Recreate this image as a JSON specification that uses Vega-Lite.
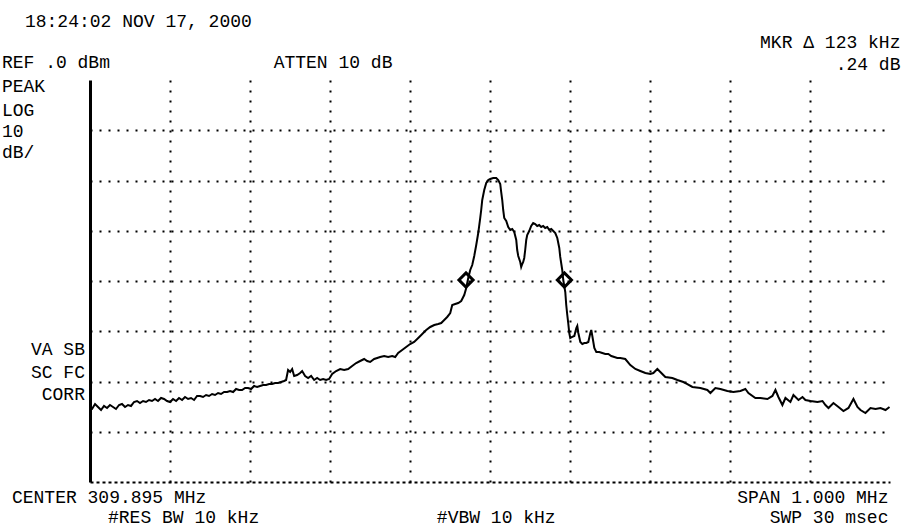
{
  "$schema": "https://vega.github.io/schema/vega-lite/v6.json",
  "autosize": "none",
  "width": 800,
  "height": 402,
  "padding": {"left": 90, "top": 80, "right": 13, "bottom": 45},
  "background": "white",
  "view": {"stroke": null},
  "config": {
    "text": {"font": "Liberation Mono", "fontSize": 18, "color": "black"}
  },
  "datasets": {
    "trace": [
      {"freq_MHz":309.395,"level_dBm":-65.67},{"freq_MHz":309.3975,"level_dBm":-65.47},{"freq_MHz":309.4013,"level_dBm":-64.48},{"freq_MHz":309.405,"level_dBm":-65.07},{"freq_MHz":309.4088,"level_dBm":-65.67},{"freq_MHz":309.4125,"level_dBm":-64.87},{"freq_MHz":309.4163,"level_dBm":-65.27},{"freq_MHz":309.42,"level_dBm":-64.68},{"freq_MHz":309.4238,"level_dBm":-65.07},{"freq_MHz":309.4275,"level_dBm":-65.47},{"freq_MHz":309.4313,"level_dBm":-64.68},{"freq_MHz":309.435,"level_dBm":-64.48},{"freq_MHz":309.4388,"level_dBm":-65.07},{"freq_MHz":309.4425,"level_dBm":-64.68},{"freq_MHz":309.4463,"level_dBm":-64.87},{"freq_MHz":309.45,"level_dBm":-64.08},{"freq_MHz":309.4538,"level_dBm":-63.88},{"freq_MHz":309.4575,"level_dBm":-64.28},{"freq_MHz":309.4613,"level_dBm":-63.88},{"freq_MHz":309.465,"level_dBm":-64.08},{"freq_MHz":309.4688,"level_dBm":-63.68},{"freq_MHz":309.4725,"level_dBm":-63.88},{"freq_MHz":309.4763,"level_dBm":-63.48},{"freq_MHz":309.48,"level_dBm":-63.88},{"freq_MHz":309.4838,"level_dBm":-63.28},{"freq_MHz":309.4876,"level_dBm":-63.48},{"freq_MHz":309.4913,"level_dBm":-63.88},{"freq_MHz":309.4951,"level_dBm":-64.08},{"freq_MHz":309.4988,"level_dBm":-63.48},{"freq_MHz":309.5026,"level_dBm":-63.88},{"freq_MHz":309.5063,"level_dBm":-63.28},{"freq_MHz":309.5101,"level_dBm":-63.68},{"freq_MHz":309.5138,"level_dBm":-63.08},{"freq_MHz":309.5176,"level_dBm":-63.48},{"freq_MHz":309.5213,"level_dBm":-63.28},{"freq_MHz":309.5251,"level_dBm":-63.68},{"freq_MHz":309.5288,"level_dBm":-62.88},{"freq_MHz":309.5326,"level_dBm":-62.88},{"freq_MHz":309.5363,"level_dBm":-63.08},{"freq_MHz":309.5401,"level_dBm":-62.69},{"freq_MHz":309.5438,"level_dBm":-62.88},{"freq_MHz":309.5476,"level_dBm":-62.49},{"freq_MHz":309.5513,"level_dBm":-62.69},{"freq_MHz":309.5551,"level_dBm":-62.29},{"freq_MHz":309.5588,"level_dBm":-62.49},{"freq_MHz":309.5626,"level_dBm":-62.09},{"freq_MHz":309.5664,"level_dBm":-62.09},{"freq_MHz":309.5701,"level_dBm":-61.89},{"freq_MHz":309.5739,"level_dBm":-62.09},{"freq_MHz":309.5776,"level_dBm":-61.49},{"freq_MHz":309.5814,"level_dBm":-61.69},{"freq_MHz":309.5851,"level_dBm":-61.69},{"freq_MHz":309.5889,"level_dBm":-61.29},{"freq_MHz":309.5926,"level_dBm":-61.29},{"freq_MHz":309.5964,"level_dBm":-61.49},{"freq_MHz":309.6001,"level_dBm":-60.89},{"freq_MHz":309.6039,"level_dBm":-61.09},{"freq_MHz":309.6076,"level_dBm":-60.89},{"freq_MHz":309.6114,"level_dBm":-60.7},{"freq_MHz":309.6151,"level_dBm":-60.7},{"freq_MHz":309.6189,"level_dBm":-60.5},{"freq_MHz":309.6226,"level_dBm":-60.5},{"freq_MHz":309.6264,"level_dBm":-60.3},{"freq_MHz":309.6301,"level_dBm":-60.3},{"freq_MHz":309.6339,"level_dBm":-60.1},{"freq_MHz":309.6376,"level_dBm":-59.9},{"freq_MHz":309.6401,"level_dBm":-59.7},{"freq_MHz":309.6426,"level_dBm":-57.71},{"freq_MHz":309.6452,"level_dBm":-58.11},{"freq_MHz":309.6477,"level_dBm":-57.51},{"freq_MHz":309.6502,"level_dBm":-58.9},{"freq_MHz":309.6539,"level_dBm":-58.71},{"freq_MHz":309.6577,"level_dBm":-58.31},{"freq_MHz":309.6602,"level_dBm":-57.91},{"freq_MHz":309.6639,"level_dBm":-58.9},{"freq_MHz":309.6677,"level_dBm":-59.3},{"freq_MHz":309.6714,"level_dBm":-58.9},{"freq_MHz":309.6752,"level_dBm":-59.7},{"freq_MHz":309.6789,"level_dBm":-59.3},{"freq_MHz":309.6827,"level_dBm":-59.7},{"freq_MHz":309.6864,"level_dBm":-59.5},{"freq_MHz":309.6902,"level_dBm":-59.7},{"freq_MHz":309.6939,"level_dBm":-59.5},{"freq_MHz":309.6977,"level_dBm":-58.51},{"freq_MHz":309.7027,"level_dBm":-57.91},{"freq_MHz":309.7077,"level_dBm":-57.51},{"freq_MHz":309.7127,"level_dBm":-57.71},{"freq_MHz":309.7177,"level_dBm":-57.51},{"freq_MHz":309.7227,"level_dBm":-56.91},{"freq_MHz":309.7277,"level_dBm":-56.32},{"freq_MHz":309.7327,"level_dBm":-55.92},{"freq_MHz":309.7377,"level_dBm":-55.52},{"freq_MHz":309.7415,"level_dBm":-55.92},{"freq_MHz":309.7452,"level_dBm":-56.12},{"freq_MHz":309.7502,"level_dBm":-55.52},{"freq_MHz":309.754,"level_dBm":-55.32},{"freq_MHz":309.7577,"level_dBm":-55.12},{"freq_MHz":309.7627,"level_dBm":-54.92},{"freq_MHz":309.7677,"level_dBm":-55.12},{"freq_MHz":309.7727,"level_dBm":-54.92},{"freq_MHz":309.7765,"level_dBm":-55.12},{"freq_MHz":309.7802,"level_dBm":-54.33},{"freq_MHz":309.7852,"level_dBm":-53.73},{"freq_MHz":309.7902,"level_dBm":-53.13},{"freq_MHz":309.7952,"level_dBm":-52.54},{"freq_MHz":309.8002,"level_dBm":-52.14},{"freq_MHz":309.8053,"level_dBm":-51.34},{"freq_MHz":309.8103,"level_dBm":-50.55},{"freq_MHz":309.8153,"level_dBm":-49.75},{"freq_MHz":309.8203,"level_dBm":-49.15},{"freq_MHz":309.8253,"level_dBm":-48.76},{"freq_MHz":309.8303,"level_dBm":-48.56},{"freq_MHz":309.834,"level_dBm":-48.36},{"freq_MHz":309.8378,"level_dBm":-47.76},{"freq_MHz":309.8415,"level_dBm":-47.16},{"freq_MHz":309.8453,"level_dBm":-46.37},{"freq_MHz":309.8478,"level_dBm":-44.78},{"freq_MHz":309.8515,"level_dBm":-44.58},{"freq_MHz":309.8553,"level_dBm":-44.38},{"freq_MHz":309.859,"level_dBm":-43.98},{"freq_MHz":309.8628,"level_dBm":-42.79},{"freq_MHz":309.8653,"level_dBm":-41.39},{"freq_MHz":309.8678,"level_dBm":-39.4},{"freq_MHz":309.8703,"level_dBm":-37.81},{"freq_MHz":309.8728,"level_dBm":-36.82},{"freq_MHz":309.8753,"level_dBm":-35.02},{"freq_MHz":309.8778,"level_dBm":-32.84},{"freq_MHz":309.8803,"level_dBm":-30.45},{"freq_MHz":309.8828,"level_dBm":-27.46},{"freq_MHz":309.884,"level_dBm":-25.87},{"freq_MHz":309.8853,"level_dBm":-23.88},{"freq_MHz":309.8878,"level_dBm":-21.89},{"freq_MHz":309.8903,"level_dBm":-20.5},{"freq_MHz":309.8928,"level_dBm":-19.9},{"freq_MHz":309.8953,"level_dBm":-19.7},{"freq_MHz":309.899,"level_dBm":-19.5},{"freq_MHz":309.9028,"level_dBm":-19.5},{"freq_MHz":309.9053,"level_dBm":-19.9},{"freq_MHz":309.9078,"level_dBm":-20.7},{"freq_MHz":309.909,"level_dBm":-22.29},{"freq_MHz":309.9103,"level_dBm":-23.88},{"freq_MHz":309.9115,"level_dBm":-25.87},{"freq_MHz":309.9128,"level_dBm":-27.46},{"freq_MHz":309.9153,"level_dBm":-28.06},{"freq_MHz":309.9178,"level_dBm":-29.25},{"freq_MHz":309.9203,"level_dBm":-29.85},{"freq_MHz":309.9228,"level_dBm":-29.65},{"freq_MHz":309.9253,"level_dBm":-30.25},{"freq_MHz":309.9278,"level_dBm":-31.84},{"freq_MHz":309.929,"level_dBm":-33.83},{"freq_MHz":309.9303,"level_dBm":-35.02},{"freq_MHz":309.9328,"level_dBm":-36.22},{"freq_MHz":309.934,"level_dBm":-37.21},{"freq_MHz":309.9353,"level_dBm":-36.62},{"freq_MHz":309.9365,"level_dBm":-36.22},{"freq_MHz":309.9378,"level_dBm":-35.42},{"freq_MHz":309.939,"level_dBm":-33.83},{"freq_MHz":309.9403,"level_dBm":-31.84},{"freq_MHz":309.9415,"level_dBm":-30.85},{"freq_MHz":309.944,"level_dBm":-30.05},{"freq_MHz":309.9465,"level_dBm":-29.05},{"freq_MHz":309.949,"level_dBm":-28.46},{"freq_MHz":309.9515,"level_dBm":-28.66},{"freq_MHz":309.954,"level_dBm":-29.05},{"freq_MHz":309.9565,"level_dBm":-28.86},{"freq_MHz":309.959,"level_dBm":-29.25},{"freq_MHz":309.9615,"level_dBm":-29.05},{"freq_MHz":309.964,"level_dBm":-29.45},{"freq_MHz":309.9666,"level_dBm":-29.25},{"freq_MHz":309.9691,"level_dBm":-29.85},{"freq_MHz":309.9716,"level_dBm":-29.65},{"freq_MHz":309.9741,"level_dBm":-30.05},{"freq_MHz":309.9766,"level_dBm":-30.45},{"freq_MHz":309.9791,"level_dBm":-31.44},{"freq_MHz":309.9816,"level_dBm":-33.43},{"freq_MHz":309.9828,"level_dBm":-35.22},{"freq_MHz":309.9853,"level_dBm":-37.81},{"freq_MHz":309.9866,"level_dBm":-39.8},{"freq_MHz":309.9891,"level_dBm":-42.19},{"freq_MHz":309.9903,"level_dBm":-44.78},{"freq_MHz":309.9916,"level_dBm":-46.77},{"freq_MHz":309.9928,"level_dBm":-48.36},{"freq_MHz":309.9941,"level_dBm":-50.35},{"freq_MHz":309.9953,"level_dBm":-51.34},{"freq_MHz":309.9978,"level_dBm":-51.14},{"freq_MHz":310.0004,"level_dBm":-50.94},{"freq_MHz":310.0029,"level_dBm":-49.35},{"freq_MHz":310.0041,"level_dBm":-48.95},{"freq_MHz":310.0054,"level_dBm":-50.35},{"freq_MHz":310.0079,"level_dBm":-52.14},{"freq_MHz":310.0104,"level_dBm":-52.54},{"freq_MHz":310.0129,"level_dBm":-52.34},{"freq_MHz":310.0154,"level_dBm":-52.34},{"freq_MHz":310.0179,"level_dBm":-52.14},{"freq_MHz":310.0204,"level_dBm":-50.35},{"freq_MHz":310.0216,"level_dBm":-49.75},{"freq_MHz":310.0229,"level_dBm":-50.94},{"freq_MHz":310.0254,"level_dBm":-53.33},{"freq_MHz":310.0279,"level_dBm":-54.13},{"freq_MHz":310.0316,"level_dBm":-54.13},{"freq_MHz":310.0354,"level_dBm":-54.33},{"freq_MHz":310.0391,"level_dBm":-54.53},{"freq_MHz":310.0429,"level_dBm":-54.53},{"freq_MHz":310.0466,"level_dBm":-54.92},{"freq_MHz":310.0504,"level_dBm":-55.12},{"freq_MHz":310.0541,"level_dBm":-55.32},{"freq_MHz":310.0579,"level_dBm":-55.32},{"freq_MHz":310.0641,"level_dBm":-55.52},{"freq_MHz":310.0704,"level_dBm":-56.72},{"freq_MHz":310.0767,"level_dBm":-57.51},{"freq_MHz":310.0829,"level_dBm":-57.91},{"freq_MHz":310.0892,"level_dBm":-58.31},{"freq_MHz":310.0954,"level_dBm":-58.51},{"freq_MHz":310.0992,"level_dBm":-58.31},{"freq_MHz":310.1042,"level_dBm":-57.51},{"freq_MHz":310.1079,"level_dBm":-58.11},{"freq_MHz":310.1142,"level_dBm":-59.1},{"freq_MHz":310.1229,"level_dBm":-59.3},{"freq_MHz":310.1292,"level_dBm":-59.7},{"freq_MHz":310.1367,"level_dBm":-60.1},{"freq_MHz":310.1417,"level_dBm":-60.5},{"freq_MHz":310.148,"level_dBm":-61.09},{"freq_MHz":310.158,"level_dBm":-61.29},{"freq_MHz":310.1667,"level_dBm":-61.69},{"freq_MHz":310.1705,"level_dBm":-62.29},{"freq_MHz":310.1767,"level_dBm":-61.29},{"freq_MHz":310.183,"level_dBm":-61.49},{"freq_MHz":310.1917,"level_dBm":-61.89},{"freq_MHz":310.1992,"level_dBm":-62.09},{"freq_MHz":310.208,"level_dBm":-61.89},{"freq_MHz":310.2142,"level_dBm":-61.49},{"freq_MHz":310.218,"level_dBm":-62.29},{"freq_MHz":310.2267,"level_dBm":-63.28},{"freq_MHz":310.233,"level_dBm":-63.28},{"freq_MHz":310.2418,"level_dBm":-63.48},{"freq_MHz":310.248,"level_dBm":-62.88},{"freq_MHz":310.2518,"level_dBm":-61.69},{"freq_MHz":310.2555,"level_dBm":-63.08},{"freq_MHz":310.2605,"level_dBm":-64.68},{"freq_MHz":310.2643,"level_dBm":-63.28},{"freq_MHz":310.2705,"level_dBm":-64.08},{"freq_MHz":310.2743,"level_dBm":-62.69},{"freq_MHz":310.2806,"level_dBm":-63.68},{"freq_MHz":310.2856,"level_dBm":-63.08},{"freq_MHz":310.2893,"level_dBm":-63.68},{"freq_MHz":310.2956,"level_dBm":-63.88},{"freq_MHz":310.3043,"level_dBm":-64.08},{"freq_MHz":310.3106,"level_dBm":-63.88},{"freq_MHz":310.3143,"level_dBm":-64.68},{"freq_MHz":310.3181,"level_dBm":-65.27},{"freq_MHz":310.3243,"level_dBm":-64.28},{"freq_MHz":310.3306,"level_dBm":-65.07},{"freq_MHz":310.3368,"level_dBm":-65.87},{"freq_MHz":310.3431,"level_dBm":-65.27},{"freq_MHz":310.3493,"level_dBm":-63.48},{"freq_MHz":310.3543,"level_dBm":-65.07},{"freq_MHz":310.3581,"level_dBm":-65.67},{"freq_MHz":310.3643,"level_dBm":-66.27},{"freq_MHz":310.3706,"level_dBm":-65.27},{"freq_MHz":310.3769,"level_dBm":-65.47},{"freq_MHz":310.3831,"level_dBm":-65.27},{"freq_MHz":310.3894,"level_dBm":-65.67},{"freq_MHz":310.3944,"level_dBm":-65.07}
    ],
    "markers": [
      {"marker": "1", "freq_MHz": 309.865, "level_dBm": -39.8},
      {"marker": "2", "freq_MHz": 309.988, "level_dBm": -39.8}
    ]
  },
  "layer": [
    {
      "data": {"name": "trace"},
      "mark": {"type": "line", "color": "black", "strokeWidth": 2, "interpolate": "linear"},
      "encoding": {
        "x": {
          "field": "freq_MHz", "type": "quantitative",
          "scale": {"domain": [309.395, 310.395], "nice": false, "zero": false},
          "axis": {
            "orient": "bottom", "title": null, "labels": false, "ticks": false,
            "values": [309.495, 309.595, 309.695, 309.795, 309.895, 309.995, 310.095, 310.195, 310.295],
            "grid": true, "gridColor": "black", "gridOpacity": 1, "gridWidth": 2, "gridDash": [2, 8],
            "domain": true, "domainColor": "black", "domainWidth": 2, "domainDash": [3, 3]
          }
        },
        "y": {
          "field": "level_dBm", "type": "quantitative",
          "scale": {"domain": [-80, 0], "nice": false, "zero": false},
          "axis": {
            "orient": "left", "title": null, "labels": false, "ticks": false,
            "values": [-70, -60, -50, -40, -30, -20, -10],
            "grid": true, "gridColor": "black", "gridOpacity": 1, "gridWidth": 2, "gridDash": [2, 7],
            "domain": true, "domainColor": "black", "domainWidth": 3
          }
        }
      }
    },
    {
      "data": {"name": "markers"},
      "mark": {"type": "point", "shape": "diamond", "filled": false, "stroke": "black", "strokeWidth": 3, "size": 200, "opacity": 1},
      "encoding": {
        "x": {"field": "freq_MHz", "type": "quantitative"},
        "y": {"field": "level_dBm", "type": "quantitative"}
      }
    },
    {
      "mark": {"type": "rule", "color": "black", "strokeWidth": 2, "strokeDash": [3, 3]},
      "encoding": {"y": {"datum": 0}}
    },
    {
      "mark": {"type": "rule", "color": "black", "strokeWidth": 3},
      "encoding": {"x": {"datum": 310.395}}
    },
    {
      "data": {"values": [{"label": "18:24:02 NOV 17, 2000"}]},
      "mark": {"type": "text", "align": "left", "baseline": "alphabetic"},
      "encoding": {"text": {"field": "label"}, "x": {"datum": 309.3137}, "y": {"datum": 10.55}}
    },
    {
      "data": {"values": [{"label": "REF .0 dBm"}]},
      "mark": {"type": "text", "align": "left", "baseline": "alphabetic"},
      "encoding": {"text": {"field": "label"}, "x": {"datum": 309.2849}, "y": {"datum": 2.39}}
    },
    {
      "data": {"values": [{"label": "ATTEN 10 dB"}]},
      "mark": {"type": "text", "align": "center", "baseline": "alphabetic"},
      "encoding": {"text": {"field": "label"}, "x": {"datum": 309.6988}, "y": {"datum": 2.39}}
    },
    {
      "data": {"values": [{"label": "MKR Δ 123 kHz"}]},
      "mark": {"type": "text", "align": "right", "baseline": "alphabetic"},
      "encoding": {"text": {"field": "label"}, "x": {"datum": 310.4081}, "y": {"datum": 6.37}}
    },
    {
      "data": {"values": [{"label": ".24 dB"}]},
      "mark": {"type": "text", "align": "right", "baseline": "alphabetic"},
      "encoding": {"text": {"field": "label"}, "x": {"datum": 310.4081}, "y": {"datum": 1.99}}
    },
    {
      "data": {"values": [{"label": "PEAK"}]},
      "mark": {"type": "text", "align": "left", "baseline": "alphabetic"},
      "encoding": {"text": {"field": "label"}, "x": {"datum": 309.2849}, "y": {"datum": -2.39}}
    },
    {
      "data": {"values": [{"label": "LOG"}]},
      "mark": {"type": "text", "align": "left", "baseline": "alphabetic"},
      "encoding": {"text": {"field": "label"}, "x": {"datum": 309.2849}, "y": {"datum": -7.16}}
    },
    {
      "data": {"values": [{"label": "10"}]},
      "mark": {"type": "text", "align": "left", "baseline": "alphabetic"},
      "encoding": {"text": {"field": "label"}, "x": {"datum": 309.2849}, "y": {"datum": -11.34}}
    },
    {
      "data": {"values": [{"label": "dB/"}]},
      "mark": {"type": "text", "align": "left", "baseline": "alphabetic"},
      "encoding": {"text": {"field": "label"}, "x": {"datum": 309.2849}, "y": {"datum": -15.52}}
    },
    {
      "data": {"values": [{"label": "VA SB"}]},
      "mark": {"type": "text", "align": "right", "baseline": "alphabetic"},
      "encoding": {"text": {"field": "label"}, "x": {"datum": 309.3887}, "y": {"datum": -54.73}}
    },
    {
      "data": {"values": [{"label": "SC FC"}]},
      "mark": {"type": "text", "align": "right", "baseline": "alphabetic"},
      "encoding": {"text": {"field": "label"}, "x": {"datum": 309.3887}, "y": {"datum": -59.3}}
    },
    {
      "data": {"values": [{"label": "CORR"}]},
      "mark": {"type": "text", "align": "right", "baseline": "alphabetic"},
      "encoding": {"text": {"field": "label"}, "x": {"datum": 309.3887}, "y": {"datum": -63.68}}
    },
    {
      "data": {"values": [{"label": "CENTER 309.895 MHz"}]},
      "mark": {"type": "text", "align": "left", "baseline": "alphabetic"},
      "encoding": {"text": {"field": "label"}, "x": {"datum": 309.2974}, "y": {"datum": -84.18}}
    },
    {
      "data": {"values": [{"label": "#RES BW 10 kHz"}]},
      "mark": {"type": "text", "align": "center", "baseline": "alphabetic"},
      "encoding": {"text": {"field": "label"}, "x": {"datum": 309.512}, "y": {"datum": -88.16}}
    },
    {
      "data": {"values": [{"label": "#VBW 10 kHz"}]},
      "mark": {"type": "text", "align": "center", "baseline": "alphabetic"},
      "encoding": {"text": {"field": "label"}, "x": {"datum": 309.9028}, "y": {"datum": -88.16}}
    },
    {
      "data": {"values": [{"label": "SPAN 1.000 MHz"}]},
      "mark": {"type": "text", "align": "right", "baseline": "alphabetic"},
      "encoding": {"text": {"field": "label"}, "x": {"datum": 310.3931}, "y": {"datum": -84.18}}
    },
    {
      "data": {"values": [{"label": "SWP 30 msec"}]},
      "mark": {"type": "text", "align": "right", "baseline": "alphabetic"},
      "encoding": {"text": {"field": "label"}, "x": {"datum": 310.3931}, "y": {"datum": -88.16}}
    }
  ]
}
